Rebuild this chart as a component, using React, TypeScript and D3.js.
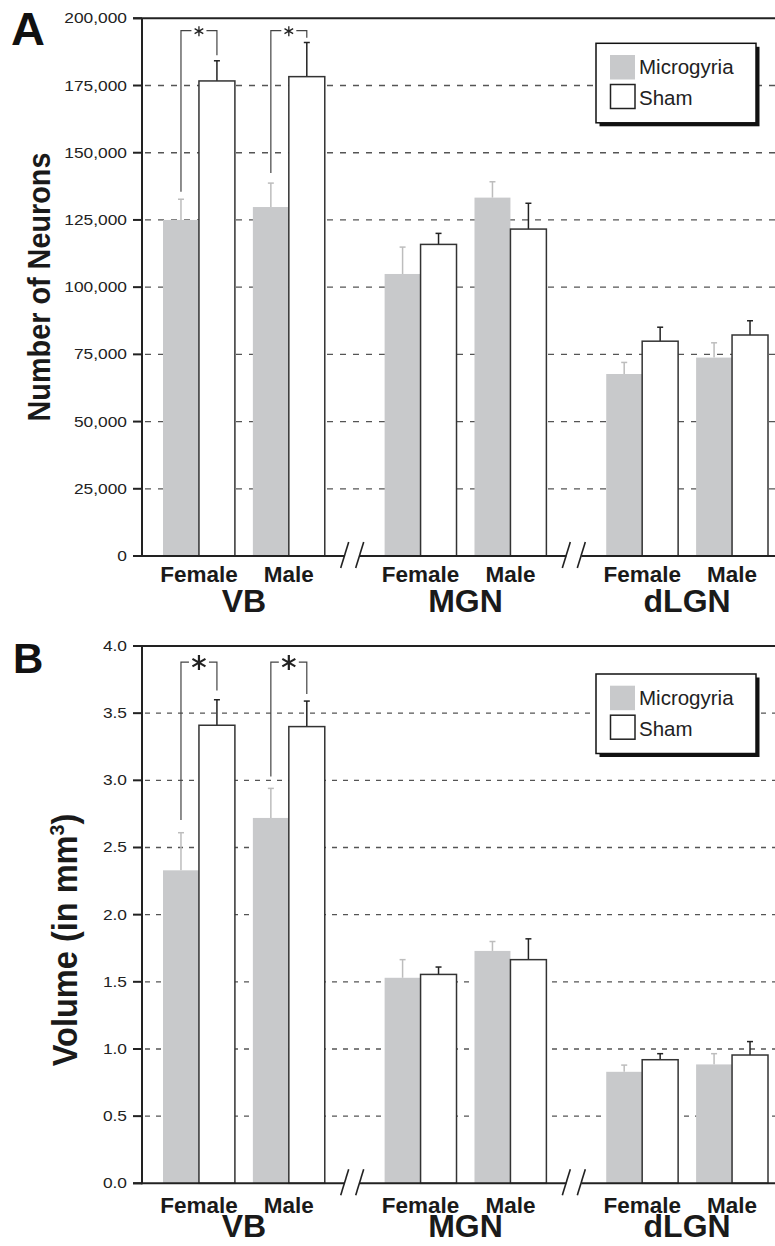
import React from 'react';
import * as d3 from 'd3';

// ---------- data ----------
const groups = ['VB', 'MGN', 'dLGN'];
const sexes = ['Female', 'Male'];
const seriesNames = ['Microgyria', 'Sham'];

// order: VB-Female, VB-Male, MGN-Female, MGN-Male, dLGN-Female, dLGN-Male
const neuronsMicro = [125000, 129800, 104900, 133300, 67700, 73800];
const neuronsMicroErr = [7700, 8900, 10000, 5900, 4300, 5500];
const neuronsSham = [176700, 178300, 115900, 121600, 79900, 82200];
const neuronsShamErr = [7500, 12700, 4100, 9600, 5200, 5300];
const neuronsTicks = [0, 25000, 50000, 75000, 100000, 125000, 150000, 175000, 200000];
// significance brackets (VB Female, VB Male)
const neuronsBracketTop = 195400;
const neuronsBracketLeft = [135500, 142500];
const neuronsBracketRight = [186300, 192800];

const volumeMicro = [2.33, 2.72, 1.53, 1.73, 0.83, 0.885];
const volumeMicroErr = [0.28, 0.22, 0.135, 0.07, 0.05, 0.08];
const volumeSham = [3.41, 3.40, 1.555, 1.665, 0.92, 0.955];
const volumeShamErr = [0.19, 0.19, 0.055, 0.155, 0.045, 0.10];
const volumeTicks = [0, 0.5, 1.0, 1.5, 2.0, 2.5, 3.0, 3.5, 4.0];
const volumeBracketTop = 3.88;
const volumeBracketLeft = [2.705, 3.028];
const volumeBracketRight = [3.668, 3.643];

// ---------- layout ----------
const W = 775;
const H = 1246;
const X0 = 142;
const XR = 775;
const FONT = '"Liberation Sans", Arial, Helvetica, sans-serif';
const MICRO_FILL = '#c8c9cb';
const MICRO_ERR = '#bdbdbd';
const DARK = '#222';

const xGroup = d3.scaleBand<string>().domain(groups).range([163, 768]).paddingInner(0.27).paddingOuter(0);
const xSex = d3.scaleBand<string>().domain(sexes).range([0, xGroup.bandwidth()]).paddingInner(0.2).paddingOuter(0);
const xSeries = d3.scaleBand<string>().domain(seriesNames).range([0, xSex.bandwidth()]).padding(0);

type PanelProps = {
  letter: string;
  letterSize: number;
  top: number;
  bottom: number;
  max: number;
  ticks: number[];
  fmt: (v: number) => string;
  micro: number[];
  microErr: number[];
  sham: number[];
  shamErr: number[];
  bTop: number;
  bLeft: number[];
  bRight: number[];
  dash: string;
  legendOffset: number;
  sexDy: number;
  groupDy: number;
  starR: number;
  starW: number;
  title: React.ReactNode;
};

function star(cx: number, cy: number, r: number) {
  const c = Math.cos(Math.PI / 6) * r;
  const s = Math.sin(Math.PI / 6) * r;
  return `M${cx},${cy - r}L${cx},${cy + r}M${cx - c},${cy - s}L${cx + c},${cy + s}M${cx - c},${cy + s}L${cx + c},${cy - s}`;
}

function Panel(p: PanelProps) {
  const y = d3.scaleLinear().domain([0, p.max]).range([p.bottom, p.top]);
  const cells: { g: string; s: string; i: number }[] = [];
  groups.forEach((g, gi) => sexes.forEach((s, si) => cells.push({ g, s, i: gi * 2 + si })));
  const barX = (g: string, s: string, ser: string) => (xGroup(g) as number) + (xSex(s) as number) + (xSeries(ser) as number);
  const bw = xSeries.bandwidth();

  // axis breaks
  const breaks = groups.slice(0, -1).map((g, i) => {
    const a = (xGroup(g) as number) + xGroup.bandwidth();
    const b = xGroup(groups[i + 1]) as number;
    return (a + b) / 2 - 2.5;
  });
  const segs: [number, number][] = [];
  let start = X0 - 9;
  breaks.forEach((c) => {
    segs.push([start, c - 7.5]);
    start = c + 7.5;
  });
  segs.push([start, XR]);

  const legTop = p.top + p.legendOffset;
  const legX = 596;

  return (
    <g>
      <text x={p.letter === 'A' ? 11 : 13} y={p.top + (p.letter === 'A' ? 27 : 27)} fontFamily={FONT} fontWeight="bold" fontSize={p.letterSize} fill="#111">
        {p.letter}
      </text>
      {p.title}
      {/* gridlines */}
      {p.ticks.filter((t) => t > 0 && t < p.max).map((t) => (
        <line key={'g' + t} x1={X0 + 3} x2={XR} y1={y(t)} y2={y(t)} stroke="#555" strokeWidth={1.3} strokeDasharray={p.dash} />
      ))}
      {/* bars */}
      {cells.map(({ g, s, i }) => {
        const xm = barX(g, s, 'Microgyria');
        const xs = barX(g, s, 'Sham');
        const cm = xm + bw / 2;
        const cs = xs + bw / 2;
        return (
          <g key={g + s}>
            <line x1={cm} x2={cm} y1={y(p.micro[i])} y2={y(p.micro[i] + p.microErr[i])} stroke={MICRO_ERR} strokeWidth={1.5} />
            <line x1={cm - 3} x2={cm + 3} y1={y(p.micro[i] + p.microErr[i])} y2={y(p.micro[i] + p.microErr[i])} stroke={MICRO_ERR} strokeWidth={1.5} />
            <rect x={xm} y={y(p.micro[i])} width={bw} height={p.bottom - y(p.micro[i])} fill={MICRO_FILL} />
            <line x1={cs} x2={cs} y1={y(p.sham[i])} y2={y(p.sham[i] + p.shamErr[i])} stroke={DARK} strokeWidth={1.5} />
            <line x1={cs - 3} x2={cs + 3} y1={y(p.sham[i] + p.shamErr[i])} y2={y(p.sham[i] + p.shamErr[i])} stroke={DARK} strokeWidth={1.5} />
            <rect x={xs} y={y(p.sham[i])} width={bw} height={p.bottom - y(p.sham[i])} fill="#fff" stroke="#333" strokeWidth={1.5} />
          </g>
        );
      })}
      {/* brackets */}
      {sexes.map((s, si) => {
        const lx = barX('VB', s, 'Microgyria') + bw / 2;
        const rx = barX('VB', s, 'Sham') + bw / 2;
        const cx = (lx + rx) / 2;
        const ty = y(p.bTop);
        return (
          <g key={'br' + s} fill="none">
            <path d={`M${lx},${y(p.bLeft[si])}V${ty}H${cx - p.starR - 2.5}M${cx + p.starR + 2.5},${ty}H${rx}V${y(p.bRight[si])}`} stroke="#444" strokeWidth={1.2} />
            <path d={star(cx, ty + 0.5, p.starR)} stroke="#222" strokeWidth={p.starW} />
          </g>
        );
      })}
      {/* axes */}
      <line x1={X0} x2={X0} y1={p.top} y2={p.bottom + 1} stroke={DARK} strokeWidth={2} />
      <line x1={X0 - 9} x2={XR} y1={p.top} y2={p.top} stroke={DARK} strokeWidth={2} />
      {segs.map(([a, b], i) => (
        <line key={'s' + i} x1={a} x2={b} y1={p.bottom} y2={p.bottom} stroke={DARK} strokeWidth={2} />
      ))}
      {breaks.map((c, i) => (
        <g key={'b' + i} stroke={DARK} strokeWidth={1.6}>
          <line x1={c - 7.5 - 4} y1={p.bottom + 12} x2={c - 7.5 + 4} y2={p.bottom - 14} />
          <line x1={c + 7.5 - 4} y1={p.bottom + 12} x2={c + 7.5 + 4} y2={p.bottom - 14} />
        </g>
      ))}
      {p.ticks.map((t) => (
        <g key={'t' + t}>
          <line x1={X0 - 9} x2={X0} y1={y(t)} y2={y(t)} stroke={DARK} strokeWidth={2} />
          <text transform={`translate(127,${y(t) + 5}) scale(1.24,1)`} textAnchor="end" fontFamily={FONT} fontSize={14} fill="#222">
            {p.fmt(t)}
          </text>
        </g>
      ))}
      {/* category labels */}
      {cells.map(({ g, s }) => (
        <text key={'l' + g + s} x={(xGroup(g) as number) + (xSex(s) as number) + xSex.bandwidth() / 2} y={p.bottom + p.sexDy} textAnchor="middle" fontFamily={FONT} fontWeight="bold" fontSize={22.5} fill="#1a1a1a">
          {s}
        </text>
      ))}
      {groups.map((g) => (
        <text key={'gl' + g} x={(xGroup(g) as number) + xGroup.bandwidth() / 2} y={p.bottom + p.groupDy} textAnchor="middle" fontFamily={FONT} fontWeight="bold" fontSize={32} fill="#1a1a1a">
          {g}
        </text>
      ))}
      {/* legend */}
      <rect x={legX + 3.5} y={legTop + 3.5} width={160} height={79.5} fill="#111" />
      <rect x={legX} y={legTop} width={160} height={79.5} fill="#fff" stroke="#111" strokeWidth={1.5} />
      <rect x={legX + 14} y={legTop + 11.7} width={25} height={24.5} fill={MICRO_FILL} />
      <rect x={legX + 14.5} y={legTop + 41.2} width={24.5} height={24} fill="#fff" stroke="#222" strokeWidth={1.5} />
      <text x={legX + 43} y={legTop + 30.5} fontFamily={FONT} fontSize={20.5} fill="#222">Microgyria</text>
      <text x={legX + 43} y={legTop + 61.5} fontFamily={FONT} fontSize={20.5} fill="#222">Sham</text>
    </g>
  );
}

export default function App() {
  return (
    <svg width={W} height={H} viewBox={`0 0 ${W} ${H}`} style={{ position: 'absolute', left: 0, top: 0, background: '#fff' }}>
      <rect x={0} y={0} width={W} height={H} fill="#fff" />
      <Panel
        letter="A"
        letterSize={47}
        top={18.3}
        bottom={556}
        max={200000}
        ticks={neuronsTicks}
        fmt={d3.format(',')}
        micro={neuronsMicro}
        microErr={neuronsMicroErr}
        sham={neuronsSham}
        shamErr={neuronsShamErr}
        bTop={neuronsBracketTop}
        bLeft={neuronsBracketLeft}
        bRight={neuronsBracketRight}
        dash="6,7"
        legendOffset={25}
        sexDy={25.7}
        groupDy={55.7}
        starR={5}
        starW={1.3}
        title={
          <text transform="translate(50,287) rotate(-90) scale(0.93,1)" textAnchor="middle" fontFamily={FONT} fontWeight="bold" fontSize={31} fill="#1a1a1a">
            Number of Neurons
          </text>
        }
      />
      <Panel
        letter="B"
        letterSize={42}
        top={646}
        bottom={1183.3}
        max={4}
        ticks={volumeTicks}
        fmt={d3.format('.1f')}
        micro={volumeMicro}
        microErr={volumeMicroErr}
        sham={volumeSham}
        shamErr={volumeShamErr}
        bTop={volumeBracketTop}
        bLeft={volumeBracketLeft}
        bRight={volumeBracketRight}
        dash="5,6"
        legendOffset={28}
        sexDy={29.4}
        groupDy={53.4}
        starR={7.5}
        starW={2.2}
        title={
          <text transform="translate(77,940) rotate(-90) scale(0.93,1)" textAnchor="middle" fontFamily={FONT} fontWeight="bold" fontSize={35} fill="#1a1a1a">
            Volume (in mm<tspan dy={-13} fontSize={21}>3</tspan><tspan dy={13}>)</tspan>
          </text>
        }
      />
    </svg>
  );
}
